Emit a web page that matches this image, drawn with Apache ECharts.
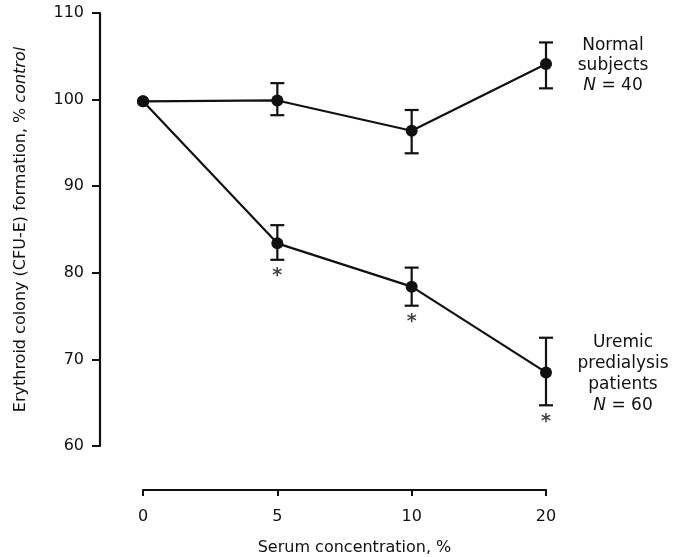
<!DOCTYPE html>
<html>
<head>
<meta charset="utf-8">
<script src="https://cdn.jsdelivr.net/npm/echarts@6/dist/echarts.min.js"></script>
<style>
  html, body { margin: 0; padding: 0; background: #fff; }
  #chart { width: 679px; height: 557px; }
</style>
</head>
<body>
<div id="chart"></div>
<script>
// 血清浓度 (x 轴类目)
const concentrations = ["0", "5", "10", "20"];

// 正常人
const normalMean = [99.8, 99.9, 96.4, 104.1];
const normalLow = [null, 98.2, 93.8, 101.3];
const normalHigh = [null, 101.9, 98.8, 106.6];

// 尿毒症透析前患者
const uremicMean = [99.8, 83.4, 78.4, 68.5];
const uremicLow = [null, 81.5, 76.2, 64.7];
const uremicHigh = [null, 85.5, 80.6, 72.5];

// 显著性标记 (*)
const significant = [false, true, true, true];

const yTicks = { min: 60, max: 110, interval: 10 };

const ink = "#111";
const font = "DejaVu Sans, Arial, sans-serif";
const fs = 16;
const lfs = 17; // 右侧注释字号

const chart = echarts.init(document.getElementById("chart"));

function errorData(low, high) {
  return low
    .map((l, i) => (l == null ? null : [i, l, high[i]]))
    .filter((d) => d);
}

function renderError(params, api) {
  const i = api.value(0);
  const lo = api.coord([i, api.value(1)]);
  const hi = api.coord([i, api.value(2)]);
  const w = 7;
  const style = { stroke: ink, lineWidth: 2.2 };
  return {
    type: "group",
    children: [
      { type: "line", shape: { x1: lo[0], y1: lo[1], x2: hi[0], y2: hi[1] }, style },
      { type: "line", shape: { x1: lo[0] - w, y1: lo[1], x2: lo[0] + w, y2: lo[1] }, style },
      { type: "line", shape: { x1: hi[0] - w, y1: hi[1], x2: hi[0] + w, y2: hi[1] }, style },
    ],
  };
}

const starData = uremicLow
  .map((l, i) => (significant[i] && l != null ? [i, l] : null))
  .filter((d) => d);

chart.setOption({
  animation: false,
  grid: { left: 143, right: 133, top: 13, bottom: 111, containLabel: false, outerBoundsMode: "none" },
  xAxis: {
    type: "category",
    data: concentrations,
    boundaryGap: false,
    offset: 44,
    axisLine: { lineStyle: { color: ink, width: 2.2 } },
    axisTick: { alignWithLabel: true, length: 6, lineStyle: { color: ink, width: 2 } },
    axisLabel: { color: ink, fontSize: fs, fontFamily: font, margin: 19 },
    splitLine: { show: false },
    name: "Serum concentration, %",
    nameLocation: "middle",
    nameGap: 50,
    nameTextStyle: { color: ink, fontSize: fs, fontFamily: font, padding: [0, 0, 0, 20] },
  },
  yAxis: {
    type: "value",
    min: yTicks.min,
    max: yTicks.max,
    interval: yTicks.interval,
    offset: 43,
    axisLine: { show: true, lineStyle: { color: ink, width: 2.2 } },
    axisTick: { show: true, length: 8, lineStyle: { color: ink, width: 2 } },
    axisLabel: { color: ink, fontSize: fs, fontFamily: font, margin: 16 },
    splitLine: { show: false },
    name: "{a|Erythroid colony (CFU-E) formation, % }{b|control}",
    nameLocation: "middle",
    nameGap: 71,
    nameTextStyle: {
      color: ink,
      fontSize: fs,
      fontFamily: font,
      rich: {
        a: { color: ink, fontSize: fs, fontFamily: font },
        b: { color: ink, fontSize: fs, fontFamily: font, fontStyle: "italic" },
      },
    },
  },
  series: [
    {
      name: "Normal subjects",
      type: "line",
      data: normalMean,
      symbol: "circle",
      symbolSize: 12,
      itemStyle: { color: ink },
      lineStyle: { color: ink, width: 2.2 },
      label: {
        show: true,
        position: "right",
        align: "center",
        offset: [56, 1],
        color: ink,
        fontSize: lfs,
        lineHeight: 20,
        fontFamily: font,
        formatter: (p) =>
          p.dataIndex === concentrations.length - 1 ? "Normal\nsubjects\n{n|N} = 40" : "",
        rich: { n: { fontStyle: "italic", fontSize: lfs, fontFamily: font, color: ink, lineHeight: 20 } },
      },
      z: 3,
    },
    {
      name: "Uremic predialysis patients",
      type: "line",
      data: uremicMean,
      symbol: "circle",
      symbolSize: 12,
      itemStyle: { color: ink },
      lineStyle: { color: ink, width: 2.2 },
      label: {
        show: true,
        position: "right",
        align: "center",
        offset: [66, 2],
        color: ink,
        fontSize: lfs,
        lineHeight: 21,
        fontFamily: font,
        formatter: (p) =>
          p.dataIndex === concentrations.length - 1
            ? "Uremic\npredialysis\npatients\n{n|N} = 60"
            : "",
        rich: { n: { fontStyle: "italic", fontSize: lfs, fontFamily: font, color: ink, lineHeight: 21 } },
      },
      z: 3,
    },
    {
      type: "custom",
      renderItem: renderError,
      data: errorData(normalLow, normalHigh),
      z: 2,
    },
    {
      type: "custom",
      renderItem: renderError,
      data: errorData(uremicLow, uremicHigh),
      z: 2,
    },
    {
      type: "scatter",
      data: starData,
      symbolSize: 0,
      label: {
        show: true,
        position: "bottom",
        distance: 7,
        formatter: "*",
        color: ink,
        fontSize: 19,
        fontWeight: "bold",
        fontFamily: font,
      },
      silent: true,
    },
  ],
});
</script>
</body>
</html>
